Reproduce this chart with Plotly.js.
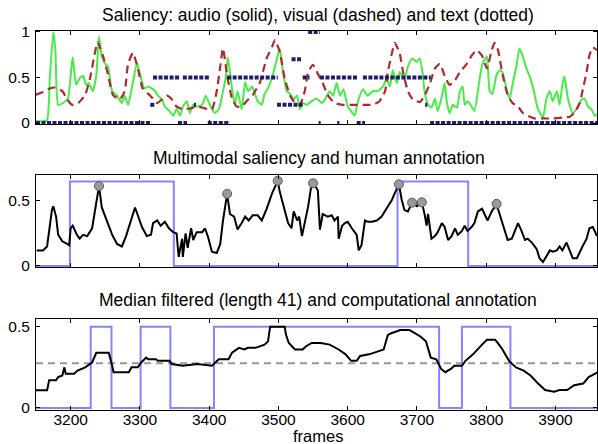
<!DOCTYPE html>
<html>
<head>
<meta charset="utf-8">
<script src="https://cdn.plot.ly/plotly-3.0.1.min.js"></script>
<style>html,body{margin:0;padding:0;background:#fff;}#chart{width:598px;height:444px;}</style>
</head>
<body>
<div id="chart"></div>
<script>
// ---------- DATA ----------
const xTicks = [3200, 3300, 3400, 3500, 3600, 3700, 3800, 3900];
const xTickLabels = ['3200', '3300', '3400', '3500', '3600', '3700', '3800', '3900'];

const titles = [
  'Saliency: audio (solid), visual (dashed) and text (dotted)',
  'Multimodal saliency and human annotation',
  'Median filtered (length 41) and computational annotation'
];
const xLabel = 'frames';

// audio saliency (solid green)
const audioFrames = [
  3150,3160,3166,3170,3175,3178,3182,3189,3196,3201,
  3203,3208,3213,3218,3222,3226,3232,3237,3241,3245,
  3250,3254,3260,3267,3274,3278,3283,3290,3296,3303,
  3307,3312,3317,3322,3326,3332,3336,3343,3348,3353,
  3358,3362,3368,3372,3377,3382,3390,3395,3401,3408,
  3414,3420,3424,3427,3433,3437,3441,3447,3452,3456,
  3462,3466,3470,3476,3480,3485,3492,3498,3502,3506,
  3512,3517,3522,3527,3531,3535,3541,3548,3555,3563,
  3568,3574,3579,3584,3589,3594,3600,3606,3610,3615,
  3622,3629,3636,3643,3651,3656,3661,3665,3671,3675,
  3682,3687,3693,3700,3704,3708,3711,3716,3721,3726,
  3730,3736,3740,3743,3747,3752,3758,3762,3766,3769,
  3773,3779,3783,3791,3795,3801,3805,3809,3815,3820,
  3824,3830,3834,3838,3844,3848,3853,3858,3863,3869,
  3874,3882,3887,3892,3896,3902,3906,3910,3913,3918,
  3925,3932,3938,3942,3947,3952,3957,3961];
const audioValues = [
  0.02,0.02,0.03,0.5,1.0,0.8,0.2,0.22,0.27,0.6,
  0.72,0.42,0.49,0.52,0.42,0.44,0.35,0.52,0.95,0.73,
  0.65,0.62,0.35,0.3,0.22,0.3,0.2,0.45,0.66,0.45,
  0.38,0.4,0.38,0.35,0.3,0.26,0.18,0.13,0.08,0.15,
  0.08,0.18,0.24,0.11,0.2,0.18,0.2,0.3,0.2,0.11,
  0.15,0.35,0.5,0.72,0.38,0.2,0.35,0.15,0.45,0.35,
  0.4,0.32,0.24,0.2,0.32,0.38,0.53,0.71,0.82,0.6,
  0.35,0.32,0.26,0.3,0.15,0.22,0.2,0.24,0.27,0.22,
  0.27,0.35,0.3,0.44,0.3,0.37,0.18,0.12,0.08,0.24,
  0.37,0.3,0.35,0.35,0.4,0.49,0.4,0.58,0.44,0.56,
  0.48,0.62,0.71,0.67,0.71,0.56,0.35,0.2,0.17,0.27,
  0.13,0.29,0.44,0.24,0.11,0.2,0.17,0.35,0.4,0.2,
  0.24,0.18,0.13,0.51,0.66,0.73,0.35,0.32,0.53,0.58,
  0.55,0.35,0.27,0.42,0.64,0.82,0.73,0.6,0.51,0.35,
  0.17,0.06,0.27,0.35,0.24,0.35,0.2,0.42,0.51,0.27,
  0.11,0.17,0.26,0.27,0.18,0.15,0.08,0.1];

// visual saliency (dashed red)
const visualFrames = [
  3150,3160,3170,3177,3188,3195,3202,3211,3221,3228,
  3235,3239,3247,3254,3261,3271,3278,3283,3290,3297,
  3304,3315,3325,3332,3339,3346,3353,3362,3372,3384,
  3394,3404,3411,3416,3420,3426,3433,3440,3447,3454,
  3463,3473,3483,3491,3495,3502,3509,3517,3524,3531,
  3538,3543,3550,3557,3564,3571,3581,3593,3607,3622,
  3636,3646,3654,3658,3664,3668,3675,3680,3687,3694,
  3704,3711,3719,3726,3733,3740,3747,3755,3762,3772,
  3779,3786,3794,3801,3808,3812,3817,3824,3831,3838,
  3846,3853,3860,3870,3882,3896,3910,3921,3928,3935,
  3939,3945,3949,3954,3960];
const visualValues = [
  0.31,0.34,0.38,0.39,0.35,0.26,0.2,0.22,0.31,0.49,
  0.77,0.89,0.73,0.53,0.31,0.26,0.35,0.65,0.77,0.6,
  0.38,0.3,0.22,0.26,0.3,0.26,0.18,0.15,0.16,0.18,
  0.16,0.15,0.35,0.62,0.82,0.52,0.27,0.18,0.18,0.24,
  0.31,0.44,0.71,0.84,0.91,0.78,0.49,0.3,0.22,0.2,
  0.35,0.56,0.64,0.54,0.44,0.31,0.22,0.2,0.2,0.2,
  0.2,0.24,0.35,0.56,0.77,0.88,0.77,0.56,0.35,0.26,
  0.23,0.3,0.44,0.6,0.65,0.52,0.42,0.47,0.56,0.65,
  0.74,0.8,0.74,0.6,0.8,0.88,0.8,0.52,0.31,0.22,
  0.18,0.11,0.08,0.05,0.05,0.05,0.06,0.07,0.12,0.22,
  0.35,0.56,0.74,0.83,0.8];

// text saliency (dotted navy): constant-level segments
const textStart = [3150,3355,3398,3558,3585,3613,3719, 3315,3378,3498,3712, 3319,3362,3426,3535,3560,3622, 3519, 3543];
const textEnd   = [3317,3368,3430,3561,3588,3625,3960, 3322,3381,3535,3715, 3358,3400,3499,3545,3615,3720, 3534, 3560];
const textLevel = [0,0,0,0,0,0,0, 0.2,0.2,0.2,0.2, 0.5,0.5,0.5,0.5,0.5,0.5, 0.7, 1];

// multimodal saliency (black)
const multiFrames = [
  3151,3160,3166,3169,3173,3175,3179,3182,3188,3195,
  3198,3200,3203,3209,3213,3218,3224,3231,3235,3241,
  3245,3252,3260,3267,3274,3280,3286,3293,3297,3303,
  3310,3316,3319,3325,3330,3336,3342,3348,3353,3356,
  3361,3362,3366,3369,3374,3377,3382,3390,3394,3398,
  3404,3411,3416,3420,3426,3430,3436,3441,3447,3452,
  3457,3463,3470,3476,3483,3491,3499,3502,3506,3514,
  3519,3522,3527,3530,3534,3538,3543,3547,3550,3555,
  3557,3560,3564,3571,3577,3581,3586,3587,3592,3596,
  3600,3606,3613,3616,3620,3625,3629,3635,3642,3649,
  3656,3664,3668,3674,3678,3682,3687,3693,3700,3707,
  3711,3714,3716,3719,3721,3726,3730,3736,3740,3745,
  3750,3755,3759,3765,3769,3773,3779,3783,3788,3794,
  3798,3802,3808,3815,3817,3822,3827,3831,3837,3841,
  3846,3851,3856,3860,3866,3873,3877,3882,3887,3892,
  3896,3902,3906,3910,3916,3921,3925,3931,3935,3939,
  3945,3949,3954,3960];
const multiValues = [
  0.12,0.12,0.15,0.28,0.43,0.46,0.38,0.24,0.19,0.17,
  0.16,0.29,0.31,0.24,0.21,0.24,0.23,0.29,0.42,0.615,
  0.45,0.35,0.24,0.17,0.15,0.23,0.33,0.45,0.39,0.3,
  0.23,0.24,0.33,0.35,0.31,0.34,0.29,0.26,0.25,0.07,
  0.21,0.07,0.25,0.14,0.29,0.2,0.26,0.26,0.29,0.23,
  0.11,0.1,0.17,0.35,0.555,0.4,0.38,0.28,0.33,0.38,
  0.35,0.39,0.39,0.35,0.44,0.56,0.655,0.57,0.49,0.33,
  0.29,0.42,0.35,0.38,0.23,0.33,0.46,0.6,0.636,0.6,
  0.58,0.28,0.4,0.38,0.39,0.35,0.38,0.21,0.31,0.33,
  0.34,0.29,0.24,0.12,0.16,0.35,0.34,0.34,0.35,0.38,
  0.44,0.51,0.56,0.628,0.51,0.43,0.42,0.487,0.46,0.49,
  0.4,0.31,0.4,0.3,0.21,0.23,0.26,0.33,0.3,0.2,
  0.23,0.29,0.24,0.27,0.31,0.27,0.3,0.33,0.42,0.44,
  0.4,0.35,0.42,0.478,0.44,0.35,0.26,0.2,0.21,0.27,
  0.33,0.27,0.2,0.21,0.18,0.13,0.06,0.03,0.07,0.12,
  0.11,0.12,0.15,0.12,0.18,0.12,0.06,0.06,0.11,0.15,
  0.21,0.29,0.3,0.23];

// selected peaks (grey circles)
const peakFrames = [3241, 3426, 3499, 3550, 3674, 3693, 3707, 3815];
const peakValues = [0.615, 0.555, 0.655, 0.636, 0.628, 0.487, 0.49, 0.478];

// human annotation (blue box)
const humanStart = [3199, 3672];
const humanEnd = [3349, 3774];
const humanLevel = 0.65;

// median-filtered saliency (black)
const medianFrames = [
  3150,3166,3169,3179,3182,3188,3191,3193,3205,3210,
  3221,3229,3231,3237,3255,3260,3262,3284,3288,3297,
  3302,3309,3312,3323,3326,3343,3346,3362,3383,3404,
  3409,3414,3428,3433,3443,3451,3456,3467,3480,3485,
  3488,3509,3511,3515,3524,3535,3540,3548,3561,3574,
  3587,3597,3605,3613,3618,3631,3645,3652,3658,3663,
  3676,3689,3697,3705,3713,3720,3728,3735,3741,3749,
  3754,3765,3770,3781,3794,3801,3813,3822,3833,3843,
  3854,3864,3875,3885,3898,3906,3917,3927,3940,3948,
  3961];
const medianValues = [
  0.109,0.109,0.17,0.17,0.19,0.2,0.25,0.21,0.21,0.23,
  0.25,0.27,0.28,0.34,0.34,0.26,0.22,0.22,0.25,0.25,
  0.28,0.31,0.3,0.3,0.29,0.29,0.27,0.26,0.27,0.26,
  0.28,0.3,0.3,0.34,0.37,0.36,0.37,0.37,0.39,0.41,
  0.5,0.5,0.45,0.4,0.36,0.36,0.38,0.4,0.4,0.39,
  0.36,0.33,0.29,0.29,0.32,0.33,0.35,0.36,0.45,0.46,
  0.48,0.48,0.46,0.44,0.41,0.31,0.3,0.24,0.22,0.24,
  0.26,0.26,0.29,0.33,0.39,0.42,0.42,0.37,0.29,0.25,
  0.23,0.2,0.15,0.11,0.1,0.11,0.11,0.14,0.15,0.19,
  0.22];

// computational annotation (blue pulses)
const compStart = [3229, 3301, 3407, 3765];
const compEnd = [3259, 3344, 3732, 3835];
const compLevel = 0.5;
const threshold = 0.275;

const xMin = 3150, xMax = 3960;

// ---------- BUILD ----------
function stepTrace(starts, ends, level) {
  const x = [xMin], y = [0];
  for (let i = 0; i < starts.length; i++) {
    x.push(starts[i], starts[i], ends[i], ends[i]);
    y.push(0, level, level, 0);
  }
  x.push(xMax); y.push(0);
  return {x, y};
}
function segTrace(starts, ends, levels) {
  const x = [], y = [];
  for (let i = 0; i < starts.length; i++) {
    x.push(starts[i], ends[i], null);
    y.push(levels[i], levels[i], null);
  }
  return {x, y};
}

const FONT = 'Liberation Sans, Arial, Helvetica, sans-serif';
const TICK_SIZE = 15.5;
const TITLE_SIZE = 17.5;
const blue = '#8585ff';
const human = stepTrace(humanStart, humanEnd, humanLevel);
const comp = stepTrace(compStart, compEnd, compLevel);
const textSeg = segTrace(textStart, textEnd, textLevel);

const traces = [
  {x: audioFrames, y: audioValues, xaxis: 'x', yaxis: 'y', mode: 'lines',
   line: {color: '#47ec47', width: 2, shape: 'spline', smoothing: 0.5}},
  {x: visualFrames, y: visualValues, xaxis: 'x', yaxis: 'y', mode: 'lines',
   line: {color: '#ad2a2e', width: 2.2, dash: '8px,5px', shape: 'spline', smoothing: 0.5}},
  {x: textSeg.x, y: textSeg.y, xaxis: 'x', yaxis: 'y', mode: 'lines', connectgaps: false,
   line: {color: '#1d1d6c', width: 4, dash: '4px,1.5px'}},

  {x: human.x, y: human.y, xaxis: 'x2', yaxis: 'y2', mode: 'lines',
   line: {color: blue, width: 2}},
  {x: multiFrames, y: multiValues, xaxis: 'x2', yaxis: 'y2', mode: 'lines',
   line: {color: '#000', width: 2}},
  {x: peakFrames, y: peakValues, xaxis: 'x2', yaxis: 'y2', mode: 'markers', cliponaxis: false,
   marker: {size: 9, color: '#9a9a9a', line: {color: '#5a5a5a', width: 1}}},

  {x: comp.x, y: comp.y, xaxis: 'x3', yaxis: 'y3', mode: 'lines',
   line: {color: blue, width: 2}},
  {x: [xMin, xMax], y: [threshold, threshold], xaxis: 'x3', yaxis: 'y3', mode: 'lines',
   line: {color: '#999', width: 2, dash: '7px,5px'}},
  {x: medianFrames, y: medianValues, xaxis: 'x3', yaxis: 'y3', mode: 'lines',
   line: {color: '#000', width: 2}}
];

const axisBase = {
  showline: true, linecolor: '#000', linewidth: 1, mirror: 'ticks',
  ticks: 'inside', ticklen: 4, tickwidth: 1, tickcolor: '#000',
  showgrid: false, zeroline: false, fixedrange: true,
  tickfont: {family: FONT, size: TICK_SIZE, color: '#000'}
};
function xa(anchor, labels) {
  return Object.assign({}, axisBase, {
    anchor: anchor, domain: [0, 1], range: [xMin, xMax],
    tickmode: 'array', tickvals: xTicks, ticktext: xTickLabels,
    showticklabels: labels, ticklabelstandoff: -4
  });
}
function ya(anchor, domain, range, vals, txt) {
  return Object.assign({}, axisBase, {
    anchor: anchor, domain: domain, range: range,
    tickmode: 'array', tickvals: vals, ticktext: txt, ticklabelstandoff: 2
  });
}

function tf(size) { return {family: FONT, size: size, color: '#000'}; }
const layout = {
  width: 598, height: 444,
  margin: {l: 36, r: 1, t: 0, b: 0},
  paper_bgcolor: '#fff', plot_bgcolor: '#fff',
  showlegend: false,
  font: {family: FONT, size: TICK_SIZE, color: '#000'},
  xaxis: xa('y', false),
  xaxis2: xa('y2', false),
  xaxis3: xa('y3', true),
  yaxis: ya('x', [0.7205, 0.9304], [-0.012, 1.012], [0, 0.5, 1], ['0', '0.5', '1']),
  yaxis2: ya('x2', [0.398, 0.6059], [-0.01, 0.7], [0, 0.5], ['0', '0.5']),
  yaxis3: ya('x3', [0.0775, 0.2824], [-0.01, 0.55], [0, 0.5], ['0', '0.5']),
  annotations: [
    {text: titles[0], xref: 'paper', yref: 'paper', x: 0.503, y: 0.966, showarrow: false,
     xanchor: 'center', yanchor: 'middle', font: tf(TITLE_SIZE)},
    {text: titles[1], xref: 'paper', yref: 'paper', x: 0.505, y: 0.644, showarrow: false,
     xanchor: 'center', yanchor: 'middle', font: tf(TITLE_SIZE)},
    {text: titles[2], xref: 'paper', yref: 'paper', x: 0.503, y: 0.324, showarrow: false,
     xanchor: 'center', yanchor: 'middle', font: tf(TITLE_SIZE)},
    {text: xLabel, xref: 'paper', yref: 'paper', x: 0.503, y: 0.018, showarrow: false,
     xanchor: 'center', yanchor: 'middle', font: tf(16.5)}
  ]
};

Plotly.newPlot('chart', traces, layout, {displayModeBar: false, staticPlot: true});
</script>
</body>
</html>
